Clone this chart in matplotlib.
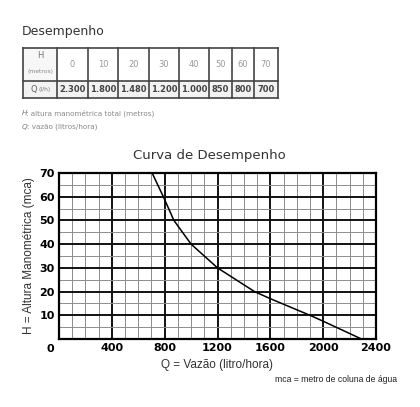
import matplotlib.pyplot as plt
from matplotlib.patches import Rectangle
from matplotlib.ticker import MultipleLocator

# ----------- DATA -----------
tab_h = ["0", "10", "20", "30", "40", "50", "60", "70"]
tab_q = ["2.300", "1.800", "1.480", "1.200", "1.000", "850", "800", "700"]

# curve as drawn on the chart
curve_q = [2290, 2000, 1900, 1600, 1480, 1200, 1000, 870, 790, 705]
curve_h = [0, 7.5, 10, 17, 20, 30, 40, 50, 60, 70]

x_ticks = [400, 800, 1200, 1600, 2000, 2400]
y_ticks = [10, 20, 30, 40, 50, 60, 70]

LAB = ["Liberation Sans", "DejaVu Sans"]

# ----------- FIGURE -----------
W, H = 420, 407
fig = plt.figure(figsize=(W / 100, H / 100), dpi=100)

# overlay axes in pixel coordinates for the table + notes
lay = fig.add_axes([0, 0, 1, 1])
lay.set_xlim(0, W)
lay.set_ylim(H, 0)
lay.axis("off")

lay.text(22, 32, "Desempenho", fontsize=9, color="#333333", va="center", ha="left")

col_w = [34.6, 30.4, 30.6, 30.4, 30.3, 30.3, 22.7, 22.3, 23.4]
x0, y_top, y_mid, y_bot = 22.7, 48.3, 81, 97.7
edge = "#444444"

# row backgrounds
lay.add_patch(Rectangle((x0, y_mid), sum(col_w), y_bot - y_mid, facecolor="#f2f2f2", edgecolor="none"))
lay.add_patch(Rectangle((x0, y_top), col_w[0], y_mid - y_top, facecolor="#f7f7f7", edgecolor="none"))

xs = [x0]
for w in col_w:
    xs.append(xs[-1] + w)
for xv in xs:
    lay.plot([xv, xv], [y_top, y_bot], color=edge, lw=1.2)
for yv in (y_top, y_mid, y_bot):
    lay.plot([xs[0], xs[-1]], [yv, yv], color=edge, lw=1.2)

cx0 = (xs[0] + xs[1]) / 2
lay.text(cx0, 56, "H", fontsize=6, color="#777777", ha="center", va="center")
lay.text(cx0, 71, "(metros)", fontsize=4.3, color="#888888", ha="center", va="center")
lay.text(cx0 - 6, (y_mid + y_bot) / 2, "Q", fontsize=6, color="#666666", ha="center", va="center")
lay.text(cx0 + 5, (y_mid + y_bot) / 2, "(l/h)", fontsize=4.3, color="#777777", ha="center", va="center")

for i, (hv, qv) in enumerate(zip(tab_h, tab_q)):
    cx = (xs[i + 1] + xs[i + 2]) / 2
    lay.text(cx, (y_top + y_mid) / 2, hv, fontsize=6, color="#999999", ha="center", va="center")
    lay.text(cx, (y_mid + y_bot) / 2, qv, fontsize=6, color="#444444", ha="center", va="center",
             fontweight="bold")

lay.text(22, 113, "H", fontsize=5.2, color="#777777", style="italic", va="center")
lay.text(26.5, 113, ": altura manométrica total (metros)", fontsize=5.2, color="#888888", va="center")
lay.text(22, 127, "Q", fontsize=5.2, color="#777777", style="italic", va="center")
lay.text(27, 127, ": vazão (litros/hora)", fontsize=5.2, color="#888888", va="center")

lay.text(209, 155, "Curva de Desempenho", fontsize=9.5, color="#333333", ha="center", va="center")
lay.text(397, 379, "mca = metro de coluna de água", fontsize=6.2, color="#222222",
         ha="right", va="center", family=LAB)

# ----------- CHART -----------
ax = fig.add_axes([59 / W, 1 - 339 / H, (376 - 59) / W, (339 - 173) / H])
ax.set_xlim(0, 2400)
ax.set_ylim(0, 70)

ax.xaxis.set_minor_locator(MultipleLocator(100))
ax.yaxis.set_minor_locator(MultipleLocator(5))
ax.grid(which="minor", color="#8c8c8c", lw=0.7)
ax.grid(which="major", color="#111111", lw=1.4)
ax.set_axisbelow(True)

ax.plot(curve_q, curve_h, color="black", lw=1.1, zorder=3)

ax.set_xticks(x_ticks)
ax.set_yticks(y_ticks)
ax.set_xticklabels([str(v) for v in x_ticks], fontweight="bold", fontsize=8)
ax.set_yticklabels([str(v) for v in y_ticks], fontweight="bold", fontsize=8)
ax.tick_params(which="both", length=0, pad=3)
for s in ax.spines.values():
    s.set_linewidth(1.6)
ax.annotate("0", (0, 0), xytext=(-6, -7), textcoords="offset points",
            fontweight="bold", fontsize=8, ha="center", va="center")

ax.set_xlabel("Q = Vazão (litro/hora)", fontsize=8.5, color="#333333", labelpad=4, family=LAB)
ax.set_ylabel("H = Altura Manométrica (mca)", fontsize=8.5, color="#333333", labelpad=3, family=LAB)

fig.savefig("out.png", dpi=100)
